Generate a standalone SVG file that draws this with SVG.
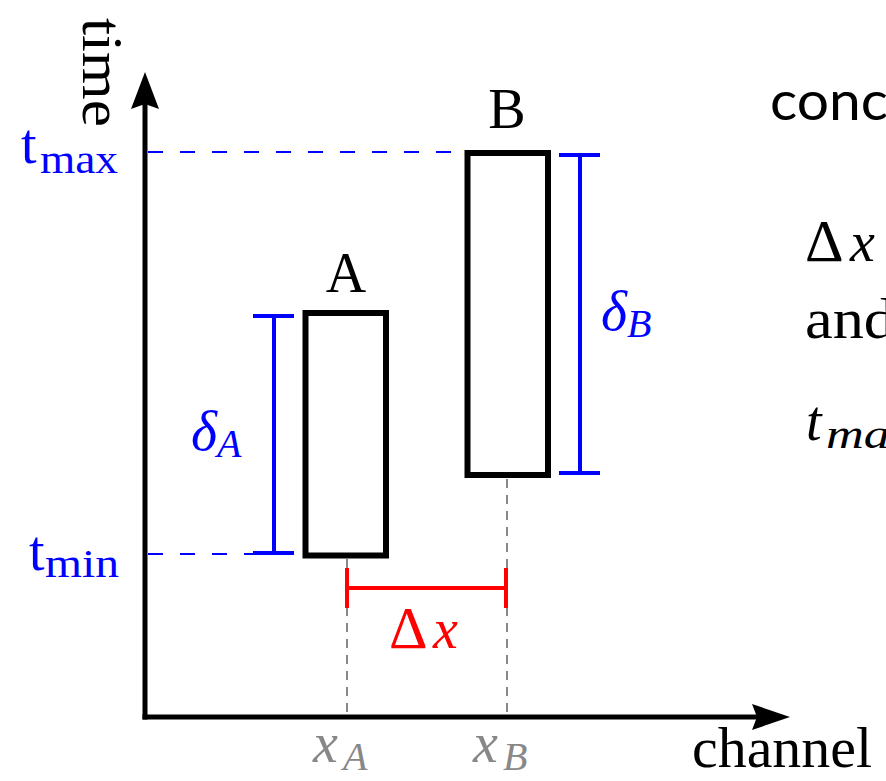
<svg xmlns="http://www.w3.org/2000/svg" width="886" height="781" viewBox="0 0 886 781">
<style>
.t{font-family:"Liberation Serif","Times New Roman",serif;font-size:56px;fill:#000}
.s{font-size:40px}
.D{font-size:60px}
.i{font-style:italic}
.blue{fill:#0000ff}
.red{fill:#ff0000}
.gray{fill:#888888}
.ax{stroke:#000;stroke-width:5;fill:none}
.box{stroke:#000;stroke-width:6;fill:none}
.bl{stroke:#0000ff;stroke-width:4;fill:none}
.bd{stroke:#0000ff;stroke-width:2;fill:none;stroke-dasharray:15 17}
.gd{stroke:#888888;stroke-width:2;fill:none;stroke-dasharray:9 7}
.rd{stroke:#ff0000;stroke-width:4;fill:none}
.sans{font-family:Lato,"Open Sans",sans-serif;font-size:54px;fill:#000}
</style>
<rect width="886" height="781" fill="#fff"/>

<g id="axes">
  <line class="ax" x1="145" y1="719.5" x2="145" y2="100"/>
  <polygon points="145,72 159,109 145,104 131,109" fill="#000"/>
  <line class="ax" x1="142.5" y1="717" x2="760" y2="717"/>
  <polygon points="790,717 752,704 757,717 752,730" fill="#000"/>
  <text class="t" x="692" y="767" font-size="54" textLength="180" lengthAdjust="spacingAndGlyphs">channel</text>
  <text class="t" transform="translate(83,18) rotate(90)" x="0" y="0" textLength="109" lengthAdjust="spacingAndGlyphs">time</text>
</g>

<g id="connectors">
  <line class="bd" x1="148" y1="152" x2="466" y2="152"/>
  <line class="bd" x1="148" y1="554" x2="305" y2="554"/>
  <line class="gd" x1="347" y1="559" x2="347" y2="717"/>
  <line class="gd" x1="507" y1="479" x2="507" y2="717"/>
  <g id="deltaA">
    <line class="bl" x1="274" y1="316" x2="274" y2="553"/>
    <line class="bl" x1="253" y1="316" x2="294" y2="316"/>
    <line class="bl" x1="253" y1="553" x2="294" y2="553"/>
  </g>
  <g id="deltaB">
    <line class="bl" x1="580" y1="155" x2="580" y2="473"/>
    <line class="bl" x1="559" y1="155" x2="600" y2="155"/>
    <line class="bl" x1="559" y1="473" x2="600" y2="473"/>
  </g>
  <g id="deltaX">
    <line class="rd" x1="347" y1="588" x2="506" y2="588"/>
    <line class="rd" x1="347" y1="568" x2="347" y2="608"/>
    <line class="rd" x1="506" y1="568" x2="506" y2="608"/>
  </g>
</g>

<g id="nodeA">
  <rect class="box" x="305.5" y="313" width="80.5" height="242.5"/>
  <text class="t" x="346" y="292" text-anchor="middle">A</text>
</g>
<g id="nodeB">
  <rect class="box" x="467.5" y="153" width="80.5" height="322"/>
  <text class="t" x="507" y="128" text-anchor="middle">B</text>
</g>

<g id="labels">
  <text class="t blue" x="21" y="163">t</text>
  <text class="t s blue" x="40" y="173" textLength="78" lengthAdjust="spacingAndGlyphs">max</text>
  <text class="t blue" x="29" y="570">t</text>
  <text class="t s blue" x="45" y="577" textLength="74" lengthAdjust="spacingAndGlyphs">min</text>

  <text class="t i blue" x="191" y="450">δ</text>
  <text class="t i s blue" x="217" y="457">A</text>
  <text class="t i blue" x="601" y="330">δ</text>
  <text class="t i s blue" x="627" y="337">B</text>

  <text class="t D red" x="389" y="648">Δ</text>
  <text class="t i red" x="433" y="648">x</text>

  <text class="t i gray" x="313" y="762">x</text>
  <text class="t i s gray" x="343" y="770">A</text>
  <text class="t i gray" x="473" y="762">x</text>
  <text class="t i s gray" x="503" y="770">B</text>
</g>

<g id="sidetext">
  <text class="sans" x="770" y="120" textLength="118" lengthAdjust="spacingAndGlyphs">conc</text>
  <text class="t D" x="805" y="261">Δ</text>
  <text class="t i" x="850" y="261">x</text>
  <text class="t" x="805" y="338" textLength="90" lengthAdjust="spacingAndGlyphs">and</text>
  <text class="t i" x="806" y="440">t</text>
  <text class="t i s" x="826" y="448" textLength="64" lengthAdjust="spacingAndGlyphs">ma</text>
</g>
</svg>
